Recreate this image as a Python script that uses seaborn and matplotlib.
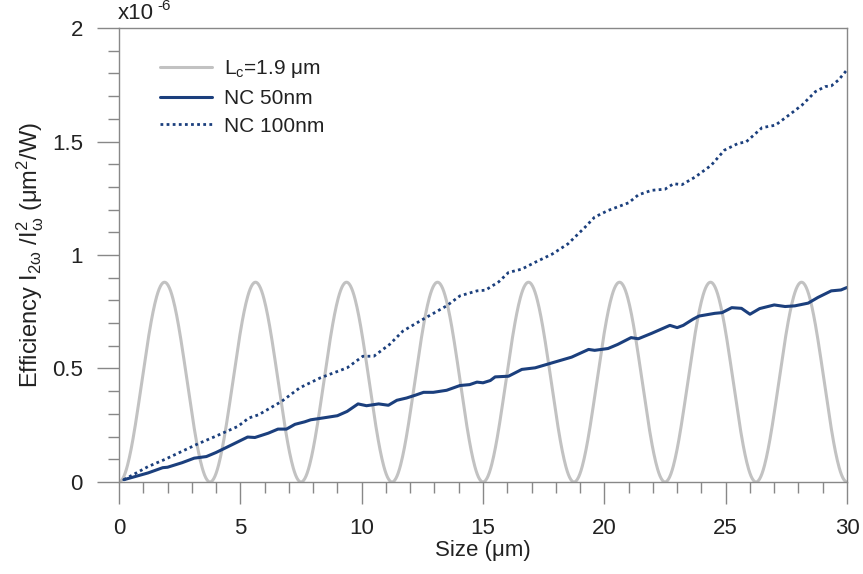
import numpy as np
import pandas as pd
import matplotlib
matplotlib.use('Agg')
import matplotlib.pyplot as plt
from matplotlib.ticker import MultipleLocator
import seaborn as sns

# ── DATA ─────────────────────────────────────────────────────
# coherence-length reference curve (peak height in units of 1e-6)
lc_period = 3.75
lc_peak = 0.88

nc50_size = [0.2, 1.2, 1.8, 2.0, 2.6, 3.1, 3.6, 4.0, 4.5, 5.3, 5.6, 6.15, 6.55, 6.9,
             7.25, 7.65, 7.9, 8.4, 9.0, 9.4, 9.85, 10.2, 10.7, 11.1, 11.45, 11.85,
             12.2, 12.55, 12.95, 13.5, 14.05, 14.45, 14.75, 15.0, 15.3, 15.5, 16.05,
             16.6, 17.15, 17.85, 18.65, 19.35, 19.6, 20.15, 20.55, 21.1, 21.4, 21.95,
             22.7, 23.0, 23.25, 23.65, 23.9, 24.55, 24.85, 25.25, 25.65, 26.0, 26.4,
             27.0, 27.45, 27.85, 28.4, 28.8, 29.35, 29.75, 30.0]
nc50_eff = [0.01, 0.04, 0.063, 0.065, 0.085, 0.105, 0.112, 0.13, 0.156, 0.198, 0.196,
            0.215, 0.233, 0.233, 0.254, 0.265, 0.274, 0.282, 0.292, 0.311, 0.344,
            0.336, 0.344, 0.338, 0.36, 0.37, 0.382, 0.395, 0.395, 0.404, 0.425,
            0.429, 0.44, 0.437, 0.447, 0.463, 0.466, 0.496, 0.503, 0.525, 0.55,
            0.584, 0.58, 0.588, 0.606, 0.636, 0.631, 0.655, 0.69, 0.68, 0.69, 0.717,
            0.731, 0.743, 0.746, 0.768, 0.765, 0.739, 0.764, 0.78, 0.773, 0.776,
            0.788, 0.813, 0.842, 0.846, 0.857]

nc100_size = [0.2, 1.2, 1.9, 3.25, 3.95, 4.9, 5.35, 5.75, 6.7, 7.45, 8.3, 9.4, 10.05,
              10.5, 11.15, 11.7, 12.4, 13.5, 14.05, 14.75, 15.1, 15.65, 16.05, 16.6,
              17.15, 17.85, 18.5, 19.2, 19.6, 20.15, 21.0, 21.4, 21.95, 22.5, 22.85,
              23.2, 23.75, 24.4, 24.95, 25.5, 25.85, 26.5, 27.05, 27.7, 28.15, 28.7,
              29.1, 29.35, 29.65, 30.0]
nc100_eff = [0.01, 0.068, 0.10, 0.168, 0.2, 0.245, 0.282, 0.296, 0.355, 0.415, 0.459,
             0.503, 0.554, 0.554, 0.606, 0.665, 0.709, 0.776, 0.82, 0.842, 0.845,
             0.882, 0.923, 0.938, 0.968, 1.004, 1.049, 1.122, 1.167, 1.196, 1.23,
             1.265, 1.285, 1.29, 1.314, 1.31, 1.344, 1.395, 1.462, 1.491, 1.499,
             1.561, 1.572, 1.624, 1.661, 1.72, 1.742, 1.745, 1.771, 1.816]

# ── STYLE ────────────────────────────────────────────────────
sns.set_style('ticks')
plt.rcParams['font.family'] = ['Liberation Sans', 'DejaVu Sans']
plt.rcParams['mathtext.fontset'] = 'custom'
plt.rcParams['mathtext.rm'] = 'Liberation Sans'
plt.rcParams['mathtext.it'] = 'Liberation Sans'

gray = '#c2c2c2'
blue = '#1b3f7d'
txt = '#222222'

fig = plt.figure(figsize=(8.63, 5.74), dpi=100)
ax = fig.add_axes([0.1379, 0.1603, 0.8436, 0.7909])

# theoretical sin^2 curve for the coherence length
size_fine = np.linspace(0, 30, 1200)
lc_curve = pd.DataFrame({'size': size_fine,
                         'eff': lc_peak * np.sin(np.pi * size_fine / lc_period) ** 2})
sns.lineplot(data=lc_curve, x='size', y='eff', ax=ax, color=gray, lw=2.2,
             label=r'L$_\mathregular{c}$=1.9 μm')

sns.lineplot(x=nc50_size, y=nc50_eff, ax=ax, color=blue, lw=2.2, label='NC 50nm')
sns.lineplot(x=nc100_size, y=nc100_eff, ax=ax, color=blue, lw=2.0,
             linestyle=(0, (1, 1.2)), label='NC 100nm')

ax.set_xlim(0, 30)
ax.set_ylim(0, 2)
ax.xaxis.set_major_locator(MultipleLocator(5))
ax.xaxis.set_minor_locator(MultipleLocator(1))
ax.yaxis.set_major_locator(MultipleLocator(0.5))
ax.yaxis.set_minor_locator(MultipleLocator(0.1))
ax.set_yticks([0, 0.5, 1, 1.5, 2])
ax.set_yticklabels(['0', '0.5', '1', '1.5', '2'])

for s in ax.spines.values():
    s.set_color('#888888')
    s.set_linewidth(1.0)
ax.tick_params(which='major', length=16, width=1.0, color='#888888',
               labelsize=16, labelcolor=txt, pad=10)
ax.tick_params(which='minor', length=8, width=1.0, color='#888888')
ax.tick_params(axis='y', which='both', right=False)
ax.tick_params(axis='x', which='both', top=False)

ax.set_xlabel('Size (μm)', fontsize=16, color=txt, labelpad=1)
ax.set_ylabel(r'Efficiency I$_{\mathregular{2ω}}$ /I$_{\mathregular{ω}}^{\mathregular{2}}$'
              r' (μm$^\mathregular{2}$/W)', fontsize=17, color=txt, labelpad=4)

fig.text(0.137, 0.958, 'x10', fontsize=16, color=txt, ha='left', va='bottom')
fig.text(0.182, 0.978, '-6', fontsize=11, color=txt, ha='left', va='bottom')

leg = ax.legend(loc='upper left', bbox_to_anchor=(0.03, 0.975), frameon=False,
                fontsize=15, handlelength=2.5, handletextpad=0.6,
                labelspacing=0.42, labelcolor=txt)

plt.savefig('out.png', dpi=100)
